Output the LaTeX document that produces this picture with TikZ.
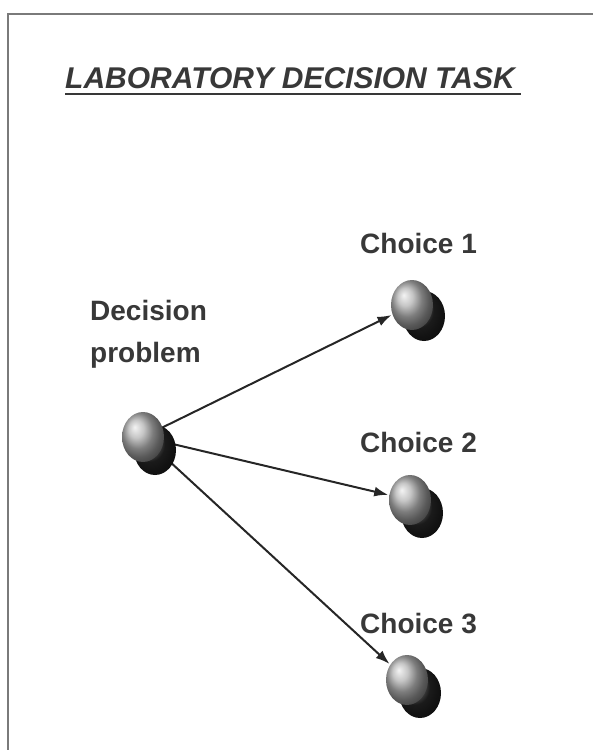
\documentclass[tikz,border=0pt]{standalone}
\usepackage{fontspec}
\setmainfont{Liberation Sans}
\usetikzlibrary{shapes.geometric,backgrounds,arrows.meta}
\definecolor{inkgray}{HTML}{383838}
\definecolor{framegray}{HTML}{7A7A7A}

\begin{document}
\begin{tikzpicture}[x=1pt, y=-1pt, >={Latex[length=14pt, width=10pt]},
    label/.style={anchor=base west, inner sep=0pt, text=inkgray, font=\fontsize{28}{42}\selectfont\bfseries},
    front/.style={ellipse, minimum width=42pt, minimum height=50pt, inner sep=0pt, shading=ball, ball color=black!30},
    back/.style={ellipse, minimum width=42pt, minimum height=50pt, inner sep=0pt, shading=ball, ball color=black!85},
    link/.style={->, line width=2pt, draw=black!85, shorten >=1pt}]
    \useasboundingbox (0,0) rectangle (592,750);
    \draw[framegray, line width=2pt] (8,752) -- (8,14) -- (594,14);

    \node (title) at (65,88) [label, font=\fontsize{30}{42}\selectfont\bfseries\itshape] {LABORATORY DECISION TASK};
    \draw[inkgray, line width=2pt] (65,94) -- (521,94);

    \node (lbl0) at (90,320) [label] {Decision};
    \node (lbl0b) at (90,362) [label] {problem};
    \node (lbl1) at (360,253) [label] {Choice 1};
    \node (lbl2) at (360,452) [label] {Choice 2};
    \node (lbl3) at (360,633) [label] {Choice 3};

    \node (b0) at (155,450) [back] {};
    \node (b1) at (424,316) [back] {};
    \node (b2) at (422,513) [back] {};
    \node (b3) at (420,693) [back] {};
    \node (dec) at (143,437) [front] {};
    \node (c1) at (412,305) [front] {};
    \node (c2) at (410,500) [front] {};
    \node (c3) at (407,680) [front] {};

    \begin{scope}[on background layer]
        \draw[link] (dec)--(c1);
        \draw[link] (dec)--(c2);
        \draw[link] (dec)--(c3);
    \end{scope}
\end{tikzpicture}
\end{document}
